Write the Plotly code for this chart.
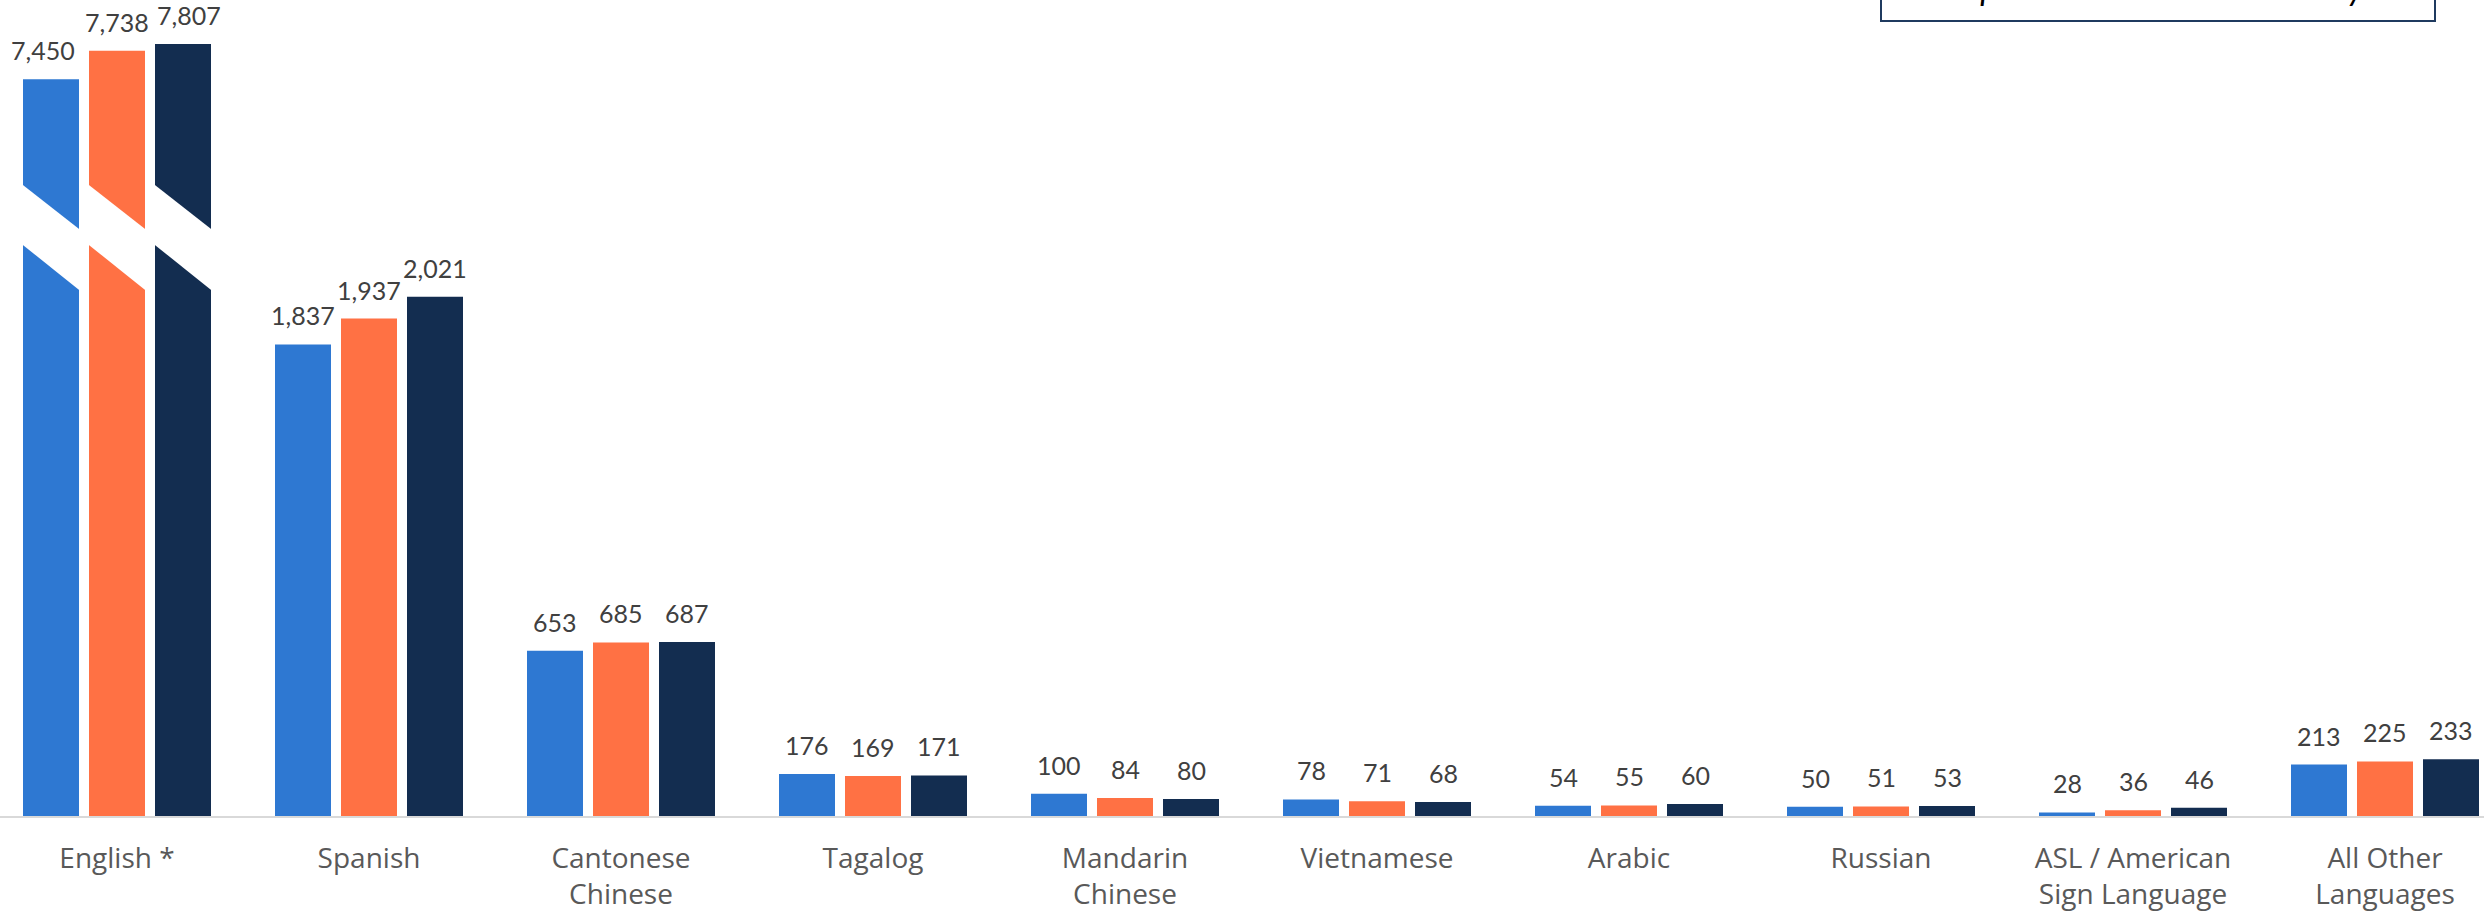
import plotly.graph_objects as go

# ---------------- data ----------------
categories = ["English *", "Spanish", "Cantonese<br>Chinese", "Tagalog", "Mandarin<br>Chinese",
              "Vietnamese", "Arabic", "Russian", "ASL / American<br>Sign Language", "All Other<br>Languages"]
series_names = ["Period 1", "Period 2", "Period 3"]
series_1 = [7450, 1837, 653, 176, 100, 78, 54, 50, 28, 213]
series_2 = [7738, 1937, 685, 169, 84, 71, 55, 51, 36, 225]
series_3 = [7807, 2021, 687, 171, 80, 68, 60, 53, 46, 233]
note_text = "improve overall chart visibility."

# ---------------- style / layout constants ----------------
W, H = 2484, 912
MB = 96                       # bottom margin
PH = H - MB                   # plot height in px
colors = ["#2E78D2", "#FF7144", "#132D50"]
FONT = "Lato, 'Open Sans', sans-serif"
TICK_FONT = "'Open Sans', Lato, sans-serif"
X0, X1 = -117 / 252, (W - 117) / 252        # category axis range
Y_MIN = 14
Y_MAX = Y_MIN + PH / 0.2587   # main scale
Y2_MAX = PH / 0.0989          # compressed scale for the broken English bars
SLOT = 66                     # px between grouped bars
BAR_W = 56
ENG_LABEL_NUDGE = [-8, 0, 6]  # small horizontal nudges of the English labels

all_series = [series_1, series_2, series_3]

fig = go.Figure()
for k, (name, vals, col) in enumerate(zip(series_names, all_series, colors)):
    fig.add_trace(go.Bar(
        x=categories, y=[None] + vals[1:], name=name, marker_color=col,
        marker_line_width=0, yaxis="y", showlegend=False, hoverinfo="x+y"))
for k, (name, vals, col) in enumerate(zip(series_names, all_series, colors)):
    fig.add_trace(go.Bar(
        x=categories, y=[vals[0]] + [None] * (len(vals) - 1), name=name, marker_color=col,
        marker_line_width=0, yaxis="y2", showlegend=False, hoverinfo="x+y"))

# value labels
annotations = []
for k, vals in enumerate(all_series):
    for i, v in enumerate(vals):
        annotations.append(dict(
            x=categories[i], y=v, xref="x", yref="y2" if i == 0 else "y",
            text=f"{v:,}", showarrow=False, xanchor="center", yanchor="bottom",
            xshift=(k - 1) * SLOT + (ENG_LABEL_NUDGE[k] if i == 0 else 0), yshift=12,
            font=dict(family=FONT, size=25, color="#404040")))

# note box at top right (partially outside the page)
BOX_L, BOX_R, BOX_BOTTOM = 1881, 2435, 22
PAD = 13
annotations.append(dict(
    x=(BOX_L + BOX_R) / 2 / W, y=(PH - BOX_BOTTOM) / PH, xref="paper", yref="paper",
    xanchor="center", yanchor="bottom", showarrow=False, text=note_text,
    font=dict(family=FONT, size=34, color="#000000", style="italic"),
    bordercolor="#1F3A5F", borderwidth=2, borderpad=PAD, bgcolor="white",
    width=BOX_R - BOX_L - 2 * PAD - 2, align="center"))

# axis-break bands on the English bars (white slanted cuts)
def px_x(p):
    return p / W

def px_y(p):
    return (PH - p) / PH

shapes = []
eng_center = (0 - X0) / (X1 - X0) * W
slope = 44 / 56
for k in range(3):
    c = eng_center + (k - 1) * SLOT
    L, R = c - BAR_W / 2 - 2, c + BAR_W / 2 + 2
    top_l, bot_l = 185 - 2 * slope, 245 - 2 * slope
    top_r, bot_r = 229 + 2 * slope, 290 + 2 * slope
    path = (f"M {px_x(L)} {px_y(top_l)} L {px_x(R)} {px_y(top_r)} "
            f"L {px_x(R)} {px_y(bot_r)} L {px_x(L)} {px_y(bot_l)} Z")
    shapes.append(dict(type="path", xref="paper", yref="paper", path=path,
                       fillcolor="white", line=dict(width=0), layer="above"))

fig.update_layout(
    width=W, height=H,
    margin=dict(l=0, r=0, t=0, b=MB, autoexpand=False),
    paper_bgcolor="white", plot_bgcolor="white",
    barmode="group", bargap=1 - 3 * SLOT / 252, bargroupgap=(SLOT - BAR_W) / SLOT,
    font=dict(family=FONT),
    xaxis=dict(type="category", categoryorder="array", categoryarray=categories,
               range=[X0, X1], showline=True, linecolor="#D9D9D9", linewidth=2,
               showgrid=False, zeroline=False, ticks="", ticklabelstandoff=16,
               tickfont=dict(family=TICK_FONT, size=28, color="#595959"), automargin=False),
    yaxis=dict(range=[Y_MIN, Y_MAX], visible=False, showgrid=False, zeroline=False, fixedrange=True),
    yaxis2=dict(range=[0, Y2_MAX], overlaying="y", visible=False, showgrid=False,
                zeroline=False, fixedrange=True),
    annotations=annotations, shapes=shapes, showlegend=False,
)

fig.write_html("out.html")
